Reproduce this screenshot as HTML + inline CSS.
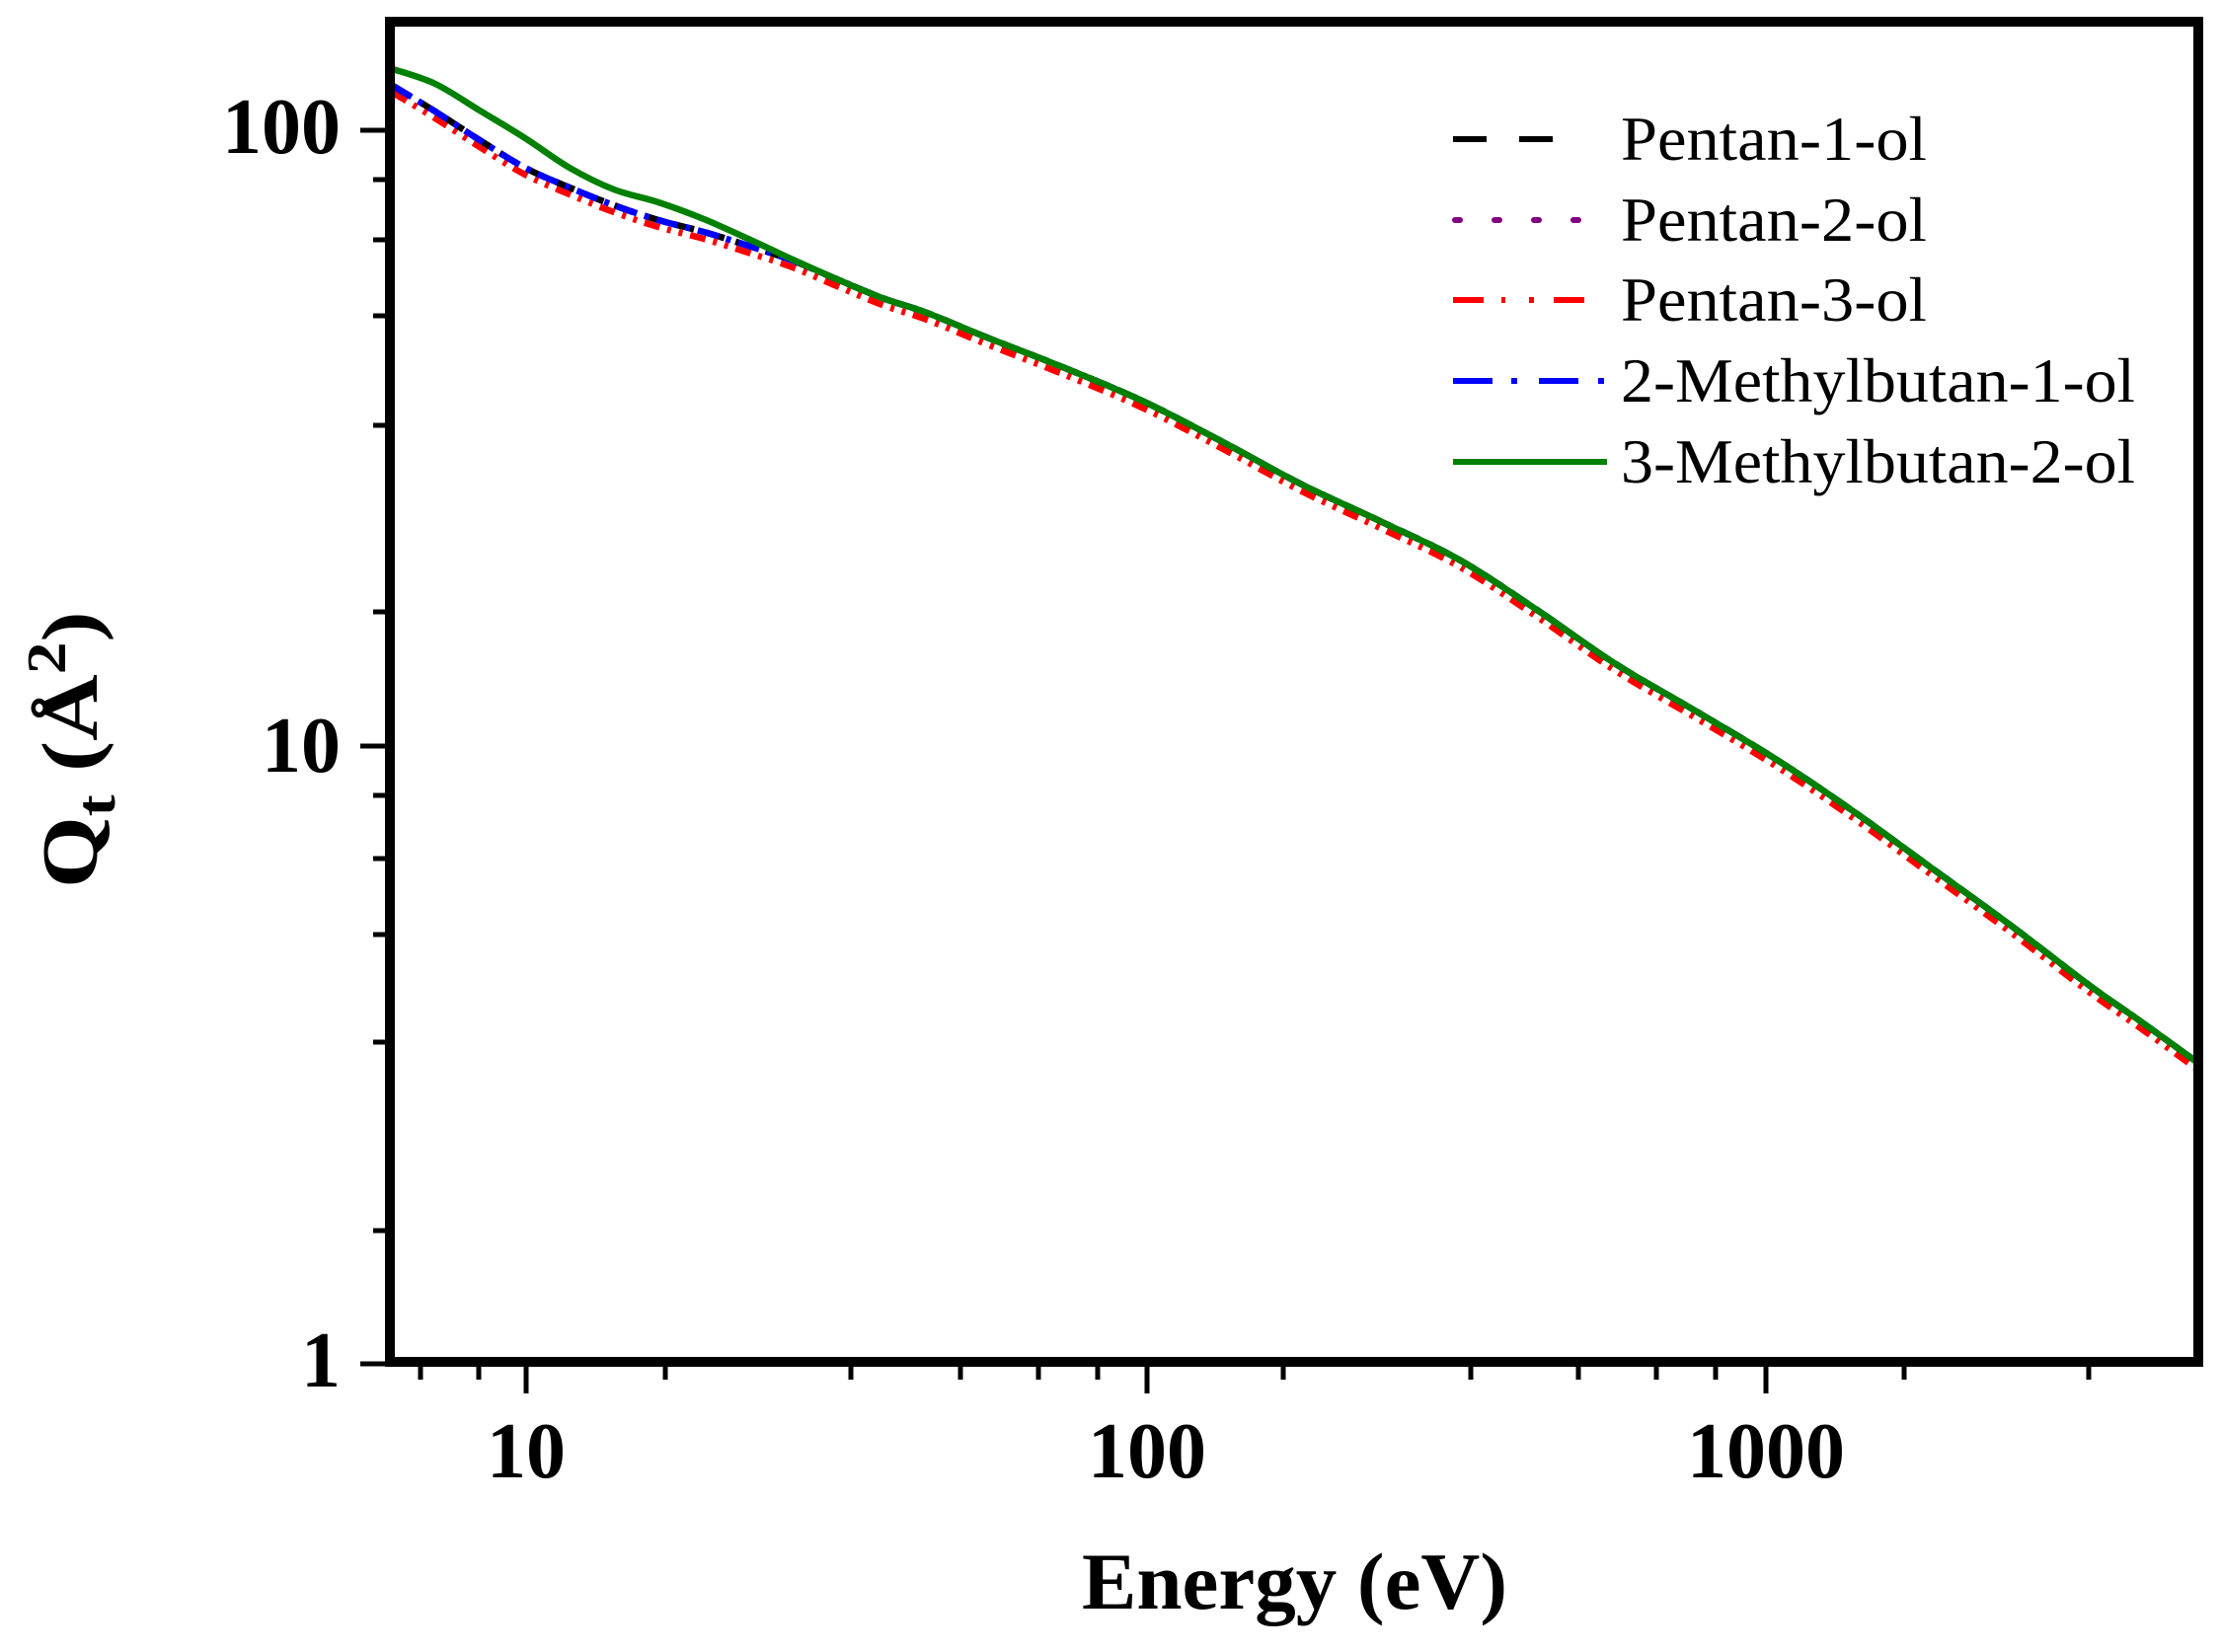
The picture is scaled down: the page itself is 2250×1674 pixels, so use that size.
<!DOCTYPE html>
<html><head><meta charset="utf-8"><style>html,body{margin:0;padding:0;background:#fff}svg{display:block}</style></head>
<body>
<svg id="s" width="2250" height="1674" viewBox="0 0 2250 1674" xmlns="http://www.w3.org/2000/svg" font-family="'Liberation Serif', serif">
<defs><clipPath id="c"><rect x="400" y="27" width="1823" height="1349"/></clipPath></defs>
<rect width="2250" height="1674" fill="#fff"/>
<g clip-path="url(#c)" fill="none" stroke-width="6.5">
<path id="pr" stroke="#ff0000" stroke-dasharray="16 8 4 8 4 8" transform="translate(0,7)"/>
<path id="pp" stroke="#800080" stroke-dasharray="4 12"/>
<path id="pk" stroke="#000" stroke-dasharray="20 12"/>
<path id="pb" stroke="#0000ff" stroke-dasharray="22 8 5 8"/>
<path id="pg" stroke="#008000"/>
</g>
<rect x="395" y="22" width="1832" height="1358" fill="none" stroke="#000" stroke-width="10"/>
<g stroke="#000" stroke-width="5">
<line x1="533" y1="1380" x2="533" y2="1412"/><line x1="1162" y1="1380" x2="1162" y2="1412"/><line x1="1789" y1="1380" x2="1789" y2="1412"/>
<path d="M426 1380V1398M485 1380V1398M674 1380V1398M862 1380V1398M973 1380V1398M1052 1380V1398M1112 1380V1398M1300 1380V1398M1490 1380V1398M1599 1380V1398M1678 1380V1398M1738 1380V1398M1929 1380V1398M2116 1380V1398"/>
<path d="M365 132H395M365 756H395M365 1382H395"/>
<path d="M378 182H395M378 243H395M378 320H395M378 431H395M378 620H395M378 806H395M378 870H395M378 947H395M378 1056H395M378 1247H395"/>
</g>
<g font-weight="bold" font-size="80" fill="#000">
<text x="533" y="1497" text-anchor="middle">10</text>
<text x="1162" y="1497" text-anchor="middle">100</text>
<text x="1789" y="1497" text-anchor="middle">1000</text>
<text x="345" y="155" text-anchor="end">100</text>
<text x="345" y="782" text-anchor="end">10</text>
<text x="345" y="1405" text-anchor="end">1</text>
<text x="1096" y="1630" font-size="82" textLength="431" lengthAdjust="spacingAndGlyphs">Energy (eV)</text>
<text transform="translate(98,900) rotate(-90) scale(1.17,1)">Q<tspan font-size="56" dy="18">t</tspan><tspan dy="-18"> (Å</tspan><tspan font-size="56" dy="-32">2</tspan><tspan dy="32">)</tspan></text>
</g>
<g stroke-width="6" fill="none">
<line x1="1472" y1="141" x2="1575" y2="141" stroke="#000" stroke-dasharray="34 33"/>
<line x1="1474" y1="223" x2="1600" y2="223" stroke="#800080" stroke-dasharray="5 35" stroke-linecap="round"/>
<line x1="1472" y1="304" x2="1607" y2="304" stroke="#ff0000" stroke-dasharray="31 18 4 24 5 20 31 30"/>
<line x1="1472" y1="386" x2="1625" y2="386" stroke="#0000ff" stroke-dasharray="40 19 6 22 40 20 6 40"/>
<line x1="1472" y1="468" x2="1628" y2="468" stroke="#008000"/>
</g>
<g font-size="64" fill="#000">
<text x="1642" y="162" textLength="310" lengthAdjust="spacingAndGlyphs">Pentan-1-ol</text>
<text x="1642" y="244" textLength="310" lengthAdjust="spacingAndGlyphs">Pentan-2-ol</text>
<text x="1642" y="325" textLength="310" lengthAdjust="spacingAndGlyphs">Pentan-3-ol</text>
<text x="1642" y="407" textLength="521" lengthAdjust="spacingAndGlyphs">2-Methylbutan-1-ol</text>
<text x="1642" y="489" textLength="521" lengthAdjust="spacingAndGlyphs">3-Methylbutan-2-ol</text>
</g>
</svg>
<script>
var tail=[[1000,342],[1079,373],[1159,407],[1239,448],[1319,491],[1398,528],[1478,567],[1557,618],[1637,673],[1717,720],[1797,768],[1876,821],[1956,879],[2036,937],[2116,998],[2170,1036],[2235,1083]];
var B=[[398,87],[441,113],[486,142],[532,170],[577,190],[622,208],[667,223],[713,235],[758,249],[803,264],[848,283],[894,302],[939,317]].concat(tail);
var G=[[398,70],[441,85],[486,112],[532,140],[577,170],[622,192],[667,205],[713,222],[758,242],[803,263],[848,283],[894,302],[939,317]].concat(tail);
function cr(p){var d="M"+p[0][0]+" "+p[0][1];for(var i=0;i<p.length-1;i++){var a=p[i-1]||p[i],b=p[i],c=p[i+1],e=p[i+2]||c;
d+=" C"+(b[0]+(c[0]-a[0])/6).toFixed(1)+" "+(b[1]+(c[1]-a[1])/6).toFixed(1)+" "+(c[0]-(e[0]-b[0])/6).toFixed(1)+" "+(c[1]-(e[1]-b[1])/6).toFixed(1)+" "+c[0]+" "+c[1];}return d;}
var db=cr(B);["pr","pp","pk","pb"].forEach(function(id){document.getElementById(id).setAttribute("d",db);});
document.getElementById("pg").setAttribute("d",cr(G));
</script>
</body></html>
